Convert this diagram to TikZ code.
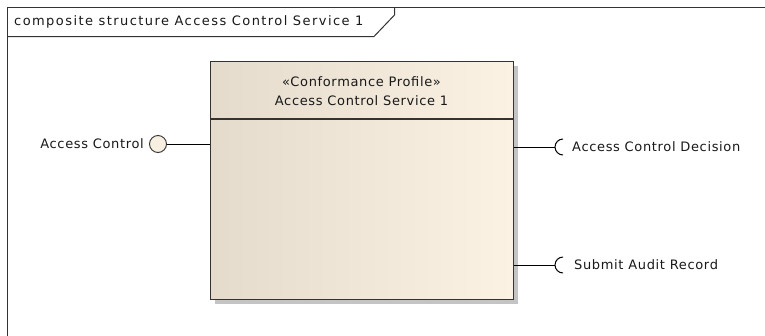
\documentclass[tikz,border=0pt]{standalone}
\usepackage{fontspec}
\setmainfont{DejaVu Sans}[LetterSpace=5]
\usetikzlibrary{shadings}
\definecolor{edge}{HTML}{333333}
\definecolor{partL}{HTML}{E4DBCC}
\definecolor{partR}{HTML}{FBF2E4}
\definecolor{ballfill}{HTML}{F7EFE2}
\definecolor{shadowgray}{HTML}{C4C4C4}
\tikzset{
  lbl/.style={font=\fontsize{13}{15}\selectfont, inner sep=0pt, text=black!90},
  wire/.style={draw=black, line width=1pt},
  framebox/.style={draw=edge, line width=1pt},
}
\begin{document}
\begin{tikzpicture}[x=1pt,y=-1pt]
\useasboundingbox (0,0) rectangle (765,335);
\clip (0,0) rectangle (765,335);
\fill[white] (0,0) rectangle (765,335);

% diagram frame and its name tab
\draw[framebox] (7.5,7.5) rectangle (800,360);
\draw[framebox] (7.5,36.5) -- (374,36.5) -- (394.5,15) -- (394.5,7.5);
\node[lbl, anchor=west, font=\fontsize{13}{15}\selectfont\addfontfeature{LetterSpace=11}] (title) at (14,22) {composite structure Access Control Service 1};

% part with drop shadow and horizontal gradient
\fill[shadowgray] (215,66) rectangle (518,304);
\shade[left color=partL, right color=partR] (210,61) rectangle (513,299);
\node[draw=edge, line width=1.4pt, minimum width=303pt, minimum height=238pt,
      inner sep=0pt, anchor=north west] (part) at (210,61) {};
\draw[edge, line width=1.2pt] (210,119) -- (513,119);
\node[lbl, align=center] (stereo) at (361.5,82) {«Conformance Profile»};
\node[lbl, align=center] (pname) at (361.5,101) {Access Control Service 1};

% provided interface
\node[circle, draw=edge, line width=0.9pt, fill=ballfill, minimum size=17pt, inner sep=0pt] (ball) at (158,144) {};
\draw[wire] (ball.east) -- (part.west |- ball.east);
\node[lbl, anchor=east] (acl) at (144,144) {Access Control};

% required interfaces
\coordinate (sock1) at (555,147);
\coordinate (sock2) at (555,265);
\draw[wire] (part.east |- sock1) -- (sock1);
\draw[wire] (part.east |- sock2) -- (sock2);
\draw[wire] ([xshift=8pt,yshift=8pt]sock1) arc[start angle=90, end angle=270, radius=8pt];
\draw[wire] ([xshift=8pt,yshift=8pt]sock2) arc[start angle=90, end angle=270, radius=8pt];
\node[lbl, anchor=west] (acd) at (572,147) {Access Control Decision};
\node[lbl, anchor=west] (sar) at (574,265) {Submit Audit Record};
\end{tikzpicture}
\end{document}
